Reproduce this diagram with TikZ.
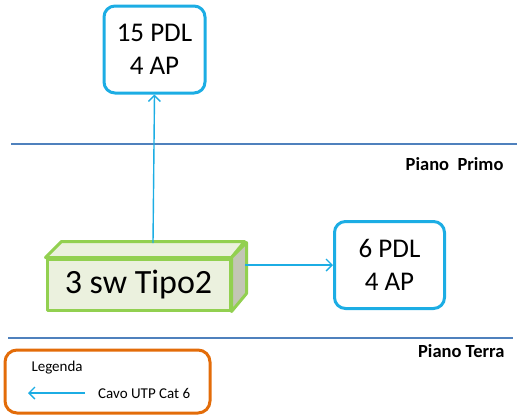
\documentclass[tikz,border=0pt]{standalone}
\usepackage{fontspec}
\setmainfont{Carlito}
\usetikzlibrary{positioning,arrows.meta}
\definecolor{cablu}{HTML}{1CADE4}
\definecolor{lineblu}{HTML}{4F81BD}
\definecolor{swgreen}{HTML}{92D050}
\definecolor{swfill}{HTML}{EBF1DE}
\definecolor{swside}{HTML}{C3C6B5}
\definecolor{legorange}{HTML}{E36C09}
\begin{document}
\begin{tikzpicture}[x=1pt,y=-1pt,
    pdl/.style={draw=cablu,line width=3pt,rounded corners=11pt,fill=white,align=center,font=\fontsize{27}{33}\selectfont,inner sep=0pt},
    swface/.style={draw=swgreen,line width=3pt,fill=swfill,line join=round},
    cavo/.style={draw=cablu,line width=1.4pt,-{Straight Barb[length=6pt,width=12pt]}},
    piano/.style={draw=lineblu,line width=1.2pt},
    pianolabel/.style={font=\fontsize{18.5}{20}\selectfont\bfseries,anchor=east}]
    \useasboundingbox (0,0) rectangle (517,416);

		% piani
		\coordinate (p1a) at (11,144);
		\coordinate (p1b) at (517,144);
		\coordinate (p0a) at (8,338);
		\coordinate (p0b) at (513,338);
		\draw[piano] (p1a) -- (p1b);
		\draw[piano] (p0a) -- (p0b);
		\node[pianolabel] (primo) at (507,164) {Piano\ \ Primo};
		\node[pianolabel] (terra) at (508,351) {Piano Terra};

		% switch
		\node[swface,minimum width=183pt,minimum height=51pt,inner sep=0pt,font=\fontsize{34}{40}\selectfont] (sw) at (138.5,284.5) {3 sw Tipo2};
		\filldraw[swface] (sw.north west) -- ++(16,-16) -- ++(183,0) -- (sw.north east) -- cycle;
		\filldraw[swface,fill=swside] (sw.north east) -- ++(15,-15) -- ++(0,51) -- (sw.south east) -- cycle;
		\coordinate (swtop) at (153,243);
		\coordinate (swright) at (245,265);

		% punti di rete
		\node[pdl,minimum width=101pt,minimum height=87pt] (pdl1) at (154.5,49.5) {15 PDL\\4 AP};
		\node[pdl,minimum width=110pt,minimum height=87pt] (pdl0) at (389.5,265) {6 PDL\\4 AP};

		\draw[cavo] (swtop) -- (pdl1.south);
		\draw[cavo] (swright) -- (pdl0.west);

		% legenda
		\node[draw=legorange,line width=3pt,rounded corners=12pt,minimum width=205pt,minimum height=63pt] (leg) at (107.5,381.5) {};
		\node[font=\fontsize{15}{18}\selectfont,anchor=west] (legtit) at (28,368) {Legenda};
		\node[font=\fontsize{15}{18}\selectfont,anchor=west,inner sep=0pt] (legcavo) at (98,393) {Cavo UTP Cat 6};
		\coordinate (legfrom) at (85,393);
		\coordinate (legto) at (28,393);
		\draw[cavo] (legfrom) -- (legto);

	\end{tikzpicture}
\end{document}
